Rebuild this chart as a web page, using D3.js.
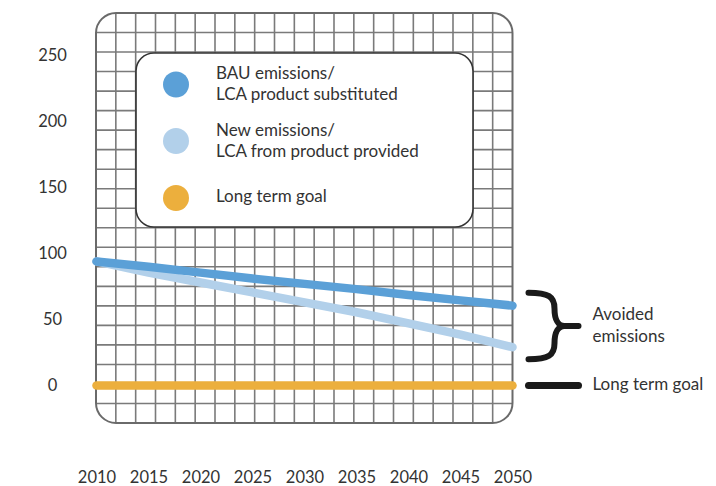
<!DOCTYPE html>
<html>
<head>
<meta charset="utf-8">
<script src="https://cdn.jsdelivr.net/npm/d3@7"></script>
<style>
  html, body { margin: 0; padding: 0; background: #ffffff; }
  svg { display: block; font-family: Lato, "Open Sans", sans-serif; }
</style>
</head>
<body>
<svg id="chart" width="716" height="486"></svg>
<script>
// Emission pathways, 2010–2050
const years = [2010, 2015, 2020, 2025, 2030, 2035, 2040, 2045, 2050];
const bauEmissions = [94, 90, 85.5, 81, 77, 73, 68.5, 64.5, 60.5];
const newEmissions = [94, 85.5, 78, 70.5, 63, 55.5, 47, 38.5, 29];
const longTermGoal = [0, 0, 0, 0, 0, 0, 0, 0, 0];
const yTicks = [0, 50, 100, 150, 200, 250];
const xTicks = [2010, 2015, 2020, 2025, 2030, 2035, 2040, 2045, 2050];

const legendItems = [
  { lines: ["BAU emissions/", "LCA product substituted"], color: "#5ba0d7" },
  { lines: ["New emissions/", "LCA from product provided"], color: "#b2d0ea" },
  { lines: ["Long term goal"], color: "#ecaf3d" }
];

const textColor = "#333333";
const labelSize = "17px";
const svg = d3.select("#chart");

const plot = { left: 96, top: 13, width: 416.5, height: 410, radius: 20, cells: 21 };
const x = d3.scaleLinear().domain([2010, 2050]).range([96.5, 512.5]);
const y = d3.scaleLinear().domain([0, 250]).range([385.5, 55.5]);

// Squared-paper background clipped to a rounded frame
svg.append("clipPath").attr("id", "frame-clip")
  .append("rect")
  .attr("x", plot.left).attr("y", plot.top)
  .attr("width", plot.width).attr("height", plot.height)
  .attr("rx", plot.radius);

const grid = svg.append("g").attr("clip-path", "url(#frame-clip)");
const colStep = plot.width / plot.cells;
const rowStep = plot.height / plot.cells;
grid.selectAll("line.v")
  .data(d3.range(1, plot.cells))
  .join("line")
  .attr("class", "v")
  .attr("x1", i => plot.left + i * colStep).attr("x2", i => plot.left + i * colStep)
  .attr("y1", plot.top).attr("y2", plot.top + plot.height)
  .attr("stroke", "#7a7a7a").attr("stroke-width", 1.6);
grid.selectAll("line.h")
  .data(d3.range(1, plot.cells))
  .join("line")
  .attr("class", "h")
  .attr("y1", i => plot.top + i * rowStep).attr("y2", i => plot.top + i * rowStep)
  .attr("x1", plot.left).attr("x2", plot.left + plot.width)
  .attr("stroke", "#7a7a7a").attr("stroke-width", 1.6);

svg.append("rect")
  .attr("x", plot.left).attr("y", plot.top)
  .attr("width", plot.width).attr("height", plot.height)
  .attr("rx", plot.radius)
  .attr("fill", "none").attr("stroke", "#6a6a6a").attr("stroke-width", 2);

// Axes (labels only)
const yAxis = svg.append("g")
  .attr("transform", "translate(52.5,0)")
  .call(d3.axisLeft(y).tickValues(yTicks).tickSize(0).tickPadding(0));
yAxis.select(".domain").remove();
yAxis.selectAll("text")
  .attr("x", 0).attr("text-anchor", "middle")
  .attr("fill", textColor)
  .style("font-family", "Lato, sans-serif").style("font-size", "16.5px");

const xAxis = svg.append("g")
  .attr("transform", "translate(0,471.5)")
  .call(d3.axisBottom(x).tickValues(xTicks).tickFormat(d3.format("d")).tickSize(0).tickPadding(0));
xAxis.select(".domain").remove();
xAxis.selectAll("text")
  .attr("fill", textColor)
  .style("font-family", "Lato, sans-serif").style("font-size", "16.5px");

// Series lines
const line = d3.line().x(d => x(d[0])).y(d => y(d[1]));
const series = [
  { values: newEmissions, color: legendItems[1].color },
  { values: bauEmissions, color: legendItems[0].color },
  { values: longTermGoal, color: legendItems[2].color }
];
svg.append("g").selectAll("path")
  .data(series)
  .join("path")
  .attr("d", s => line(years.map((yr, i) => [yr, s.values[i]])))
  .attr("fill", "none")
  .attr("stroke", s => s.color)
  .attr("stroke-width", 8.5)
  .attr("stroke-linecap", "round")
  .attr("stroke-linejoin", "round");

// Legend box
const legend = svg.append("g");
legend.append("rect")
  .attr("x", 136).attr("y", 53).attr("width", 337).attr("height", 174)
  .attr("rx", 18)
  .attr("fill", "#ffffff").attr("stroke", "#333333").attr("stroke-width", 1.6);

const legendRows = [79, 136, 202];
const legendDots = [84.5, 141, 198];
legendItems.forEach((item, i) => {
  legend.append("circle")
    .attr("cx", 176).attr("cy", legendDots[i]).attr("r", 13)
    .attr("fill", item.color);
  const t = legend.append("text")
    .attr("x", 216).attr("y", legendRows[i])
    .attr("fill", textColor)
    .style("font-size", labelSize);
  item.lines.forEach((ln, j) => {
    t.append("tspan").attr("x", 216).attr("dy", j === 0 ? 0 : 20.5).text(ln);
  });
});

// Right-hand annotations
const endYear = years[years.length - 1];
const yTop = y(bauEmissions[bauEmissions.length - 1]) - 13;
const yBot = y(newEmissions[newEmissions.length - 1]) + 12;
const yMid = (yTop + yBot) / 2;
const bx0 = x(endYear) + 16, bx1 = bx0 + 26, bxTip = bx0 + 50;
const brace = d3.path();
brace.moveTo(bx0, yTop);
brace.bezierCurveTo(bx0 + 20, yTop, bx1, yTop + 4, bx1, yTop + 16);
brace.bezierCurveTo(bx1, yMid - 6, bx1 + 4, yMid, bxTip - 14, yMid);
brace.lineTo(bxTip, yMid);
brace.moveTo(bx0, yBot);
brace.bezierCurveTo(bx0 + 20, yBot, bx1, yBot - 4, bx1, yBot - 16);
brace.bezierCurveTo(bx1, yMid + 6, bx1 + 4, yMid, bxTip - 14, yMid);
svg.append("path")
  .attr("d", brace.toString())
  .attr("fill", "none").attr("stroke", "#1a1a1a")
  .attr("stroke-width", 6).attr("stroke-linecap", "round").attr("stroke-linejoin", "round");

svg.append("line")
  .attr("x1", bx0).attr("x2", bxTip)
  .attr("y1", y(longTermGoal[longTermGoal.length - 1])).attr("y2", y(longTermGoal[longTermGoal.length - 1]))
  .attr("stroke", "#1a1a1a").attr("stroke-width", 7).attr("stroke-linecap", "round");

const note = svg.append("text")
  .attr("x", 592.5).attr("y", 320)
  .attr("fill", textColor).style("font-size", labelSize);
note.append("tspan").attr("x", 592.5).attr("dy", 0).text("Avoided");
note.append("tspan").attr("x", 592.5).attr("dy", 21.5).text("emissions");

svg.append("text")
  .attr("x", 592.5).attr("y", 390)
  .attr("fill", textColor).style("font-size", labelSize)
  .text("Long term goal");
</script>
</body>
</html>
